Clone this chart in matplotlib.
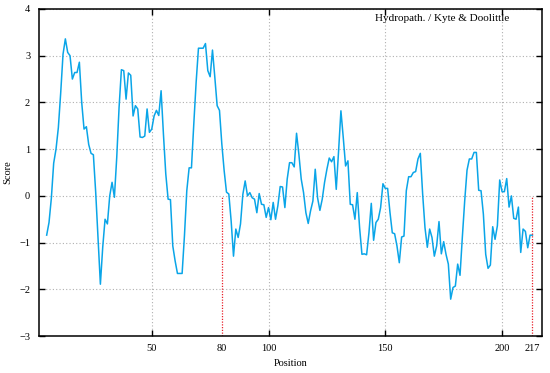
import matplotlib
matplotlib.use("Agg")
import matplotlib.pyplot as plt
import numpy as np

# Kyte & Doolittle hydropathy, window centres 5..213
positions = np.arange(5, 214)
scores = [
    -0.84, -0.57, -0.05, 0.70, 1.00, 1.46, 2.20, 3.03, 3.36, 3.07,
    3.00, 2.50, 2.64, 2.64, 2.86, 2.00, 1.43, 1.48, 1.10, 0.91,
    0.88, 0.07, -0.90, -1.89, -1.10, -0.50, -0.60, 0.00, 0.29, -0.03,
    0.82, 1.89, 2.70, 2.68, 2.07, 2.63, 2.58, 1.71, 1.93, 1.86,
    1.26, 1.25, 1.28, 1.86, 1.36, 1.43, 1.71, 1.83, 1.72, 2.25,
    1.32, 0.47, -0.07, -0.08, -1.07, -1.39, -1.66, -1.66, -1.66, -0.85,
    0.11, 0.60, 0.60, 1.54, 2.43, 3.16, 3.16, 3.16, 3.26, 2.68,
    2.55, 3.12, 2.54, 1.93, 1.83, 1.11, 0.54, 0.08, 0.04, -0.54,
    -1.29, -0.71, -0.89, -0.60, 0.03, 0.32, 0.00, 0.07, -0.04, -0.07,
    -0.36, 0.05, -0.18, -0.19, -0.46, -0.25, -0.51, -0.14, -0.50, -0.21,
    0.20, 0.19, -0.25, 0.36, 0.71, 0.71, 0.62, 1.34, 0.89, 0.36,
    0.07, -0.36, -0.59, -0.32, -0.11, 0.57, -0.04, -0.31, -0.07, 0.29,
    0.57, 0.81, 0.73, 0.84, 0.14, 0.96, 1.82, 1.25, 0.64, 0.75,
    -0.18, -0.19, -0.50, 0.07, -0.68, -1.25, -1.24, -1.26, -0.79, -0.16,
    -0.95, -0.57, -0.50, -0.25, 0.26, 0.16, 0.16, -0.35, -0.79, -0.81,
    -1.07, -1.43, -0.88, -0.86, 0.11, 0.41, 0.41, 0.50, 0.52, 0.79,
    0.91, 0.04, -0.68, -1.10, -0.71, -0.89, -1.29, -1.07, -0.55, -1.24,
    -0.98, -1.25, -1.46, -2.21, -1.96, -1.93, -1.46, -1.70, -0.88, -0.11,
    0.55, 0.79, 0.79, 0.93, 0.93, 0.12, 0.11, -0.39, -1.25, -1.55,
    -1.48, -0.66, -0.93, -0.64, 0.34, 0.09, 0.09, 0.37, -0.24, 0.00,
    -0.48, -0.50, -0.24, -1.21, -0.71, -0.76, -1.11, -0.84, -0.84,
]
x_ticks = [50, 100, 150, 200]
marks = [80, 213]
mark_labels = ["80", "217"]
y_ticks = [-3, -2, -1, 0, 1, 2, 3, 4]

plt.rcParams["font.family"] = ["Liberation Serif", "DejaVu Serif"]
plt.rcParams["font.size"] = 7.5

fig = plt.figure(figsize=(5.5, 3.73), dpi=100)
ax = fig.add_axes([0.070, 0.099, 0.915, 0.877])

ax.plot(positions, scores, color="#0aa5e8", lw=1.1)
for m in marks:
    ax.plot([m, m], [-3, 0], color="#e8202a", lw=0.9, ls=(0, (1, 1.2)))

ax.set_xlim(1.5, 217)
ax.set_ylim(-3, 4)
ax.set_xticks(x_ticks)
ax.set_xticks(marks, mark_labels, minor=True)
ax.set_yticks(y_ticks)
ax.set_yticklabels(["\u2212" + str(-v) if v < 0 else str(v) for v in y_ticks])
ax.grid(True, which="major", color="#b0b0b0", ls=(0, (1, 2)), lw=0.8)
ax.tick_params(which="major", direction="in", length=4, width=1,
               top=True, right=True, labelsize=7.5, pad=6)
ax.tick_params(which="minor", direction="in", length=0, labelsize=7.5, pad=6)
for s in ax.spines.values():
    s.set_linewidth(1.1)

ax.set_xlabel("Position", fontsize=7.5, labelpad=4)
ax.set_ylabel("Score", fontsize=7.5, labelpad=5)
ax.text(0.935, 0.972, "Hydropath. / Kyte & Doolittle", transform=ax.transAxes,
        ha="right", va="center", fontsize=8)

fig.savefig("out.png", dpi=100)
